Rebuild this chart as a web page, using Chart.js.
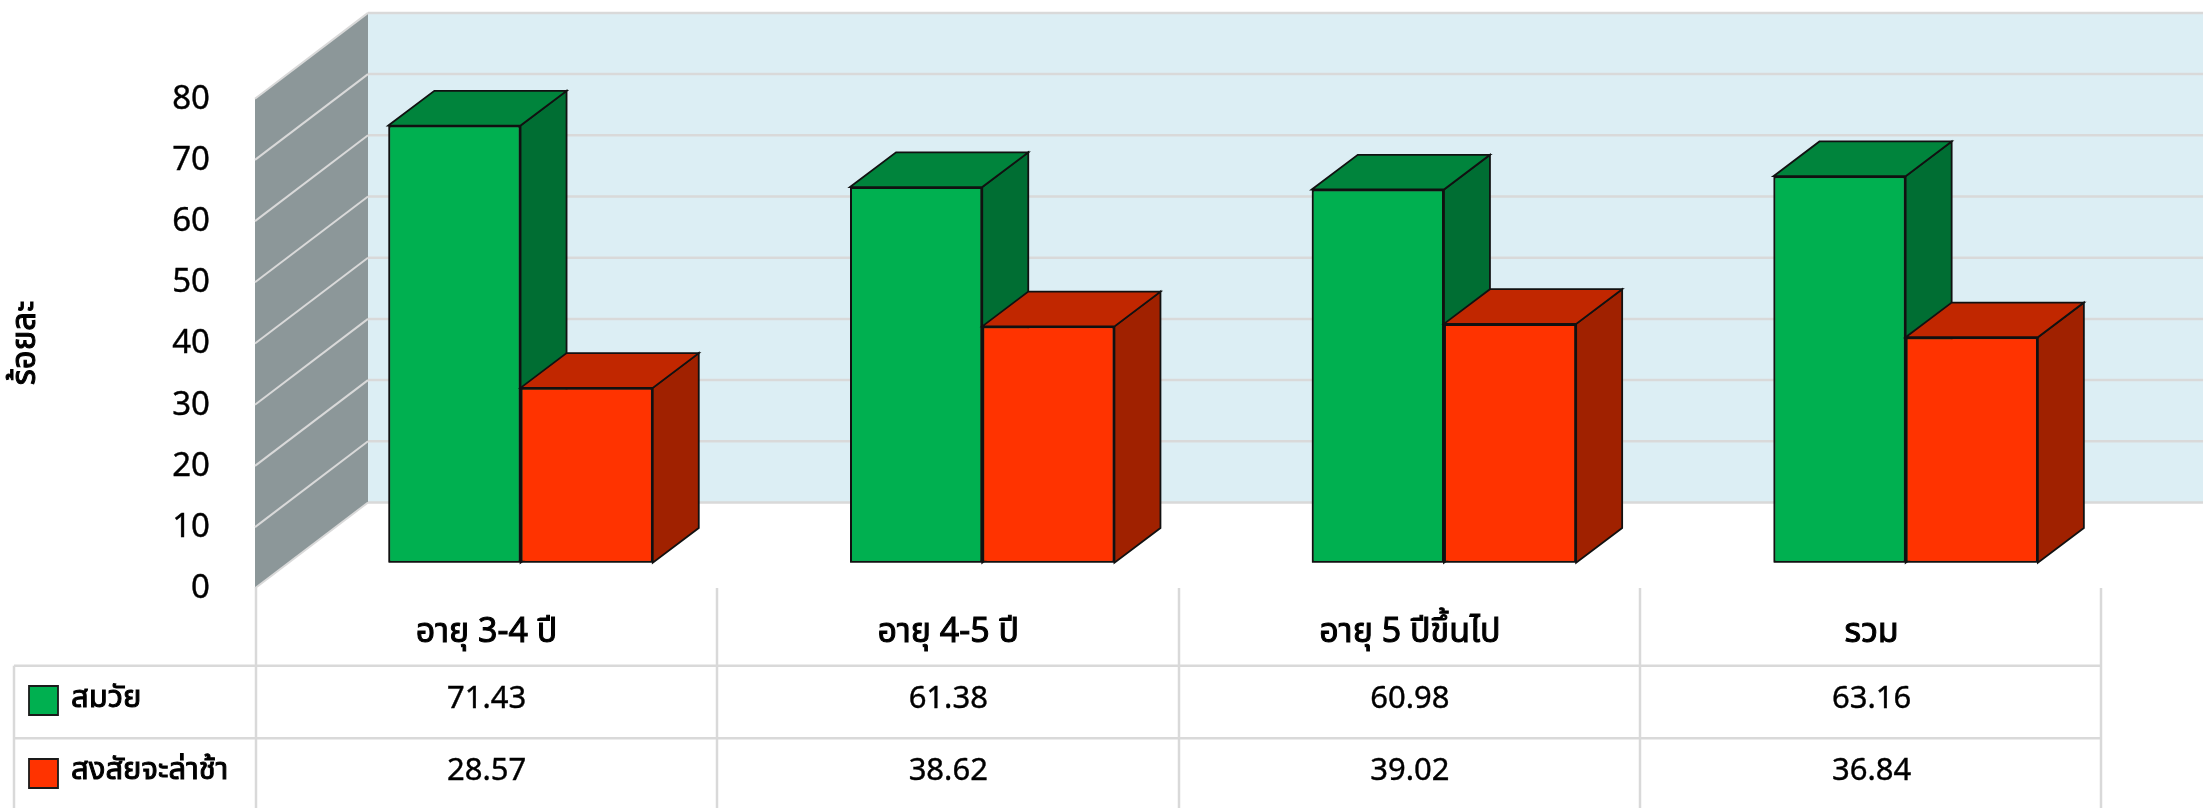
<!DOCTYPE html>
<html><head><meta charset="utf-8">
<style>html,body{margin:0;padding:0;background:#fff}#wrap{width:2203px;height:808px}canvas{display:block}</style>
<script src="https://cdn.jsdelivr.net/npm/chart.js@4"></script>
</head><body><div id="wrap"><canvas id="c" width="2203" height="808"></canvas></div>
<script>
const categories = ['อายุ 3-4 ปี', 'อายุ 4-5 ปี', 'อายุ 5 ปีขึ้นไป', 'รวม'];
const onTime = [71.43, 61.38, 60.98, 63.16];
const delayed = [28.57, 38.62, 39.02, 36.84];
const seriesNames = ['สมวัย', 'สงสัยจะล่าช้า'];
const yTickValues = [0, 10, 20, 30, 40, 50, 60, 70, 80];
const yTitle = 'ร้อยละ';

const FONT = '"Noto Sans","Noto Sans Thai","DejaVu Sans",sans-serif';
const GRID = '#D9D9D9';
const faces = [
  {front:'#00B050', top:'#00843C', side:'#006E33'},
  {front:'#FF3300', top:'#C12700', side:'#A02100'}
];
const depth = {dx:46, dy:34.7};

function poly(ctx, pts, fill, stroke, lw){
  ctx.beginPath();
  pts.forEach((p,i)=> i?ctx.lineTo(p[0],p[1]):ctx.moveTo(p[0],p[1]));
  ctx.closePath();
  if(fill){ctx.fillStyle=fill;ctx.fill();}
  if(stroke){ctx.strokeStyle=stroke;ctx.lineWidth=lw;ctx.lineJoin='miter';ctx.stroke();}
}
function line(ctx,x1,y1,x2,y2,c,w){
  ctx.beginPath();ctx.moveTo(x1,y1);ctx.lineTo(x2,y2);ctx.strokeStyle=c;ctx.lineWidth=w;ctx.stroke();
}
function heavyText(ctx,s,x,y,w){ctx.fillText(s,x,y);ctx.lineWidth=w;ctx.strokeStyle='#000';ctx.strokeText(s,x,y);}

const walls = {
  id:'walls',
  beforeDatasetsDraw(chart){
    const {ctx,scales:{y}} = chart;
    const wx=368, fx=255, W=chart.width, back=-60.2, front=25.6;
    const p=v=>y.getPixelForValue(v);
    ctx.save();
    poly(ctx,[[wx,p(80)+back],[W,p(80)+back],[W,p(0)+back],[wx,p(0)+back]],'#DCEEF4');
    poly(ctx,[[fx,p(80)+front],[wx,p(80)+back],[wx,p(0)+back],[fx,p(0)+front]],'#8C9799');
    yTickValues.forEach(v=>{
      line(ctx,wx,p(v)+back,W,p(v)+back,GRID,2.5);
      line(ctx,fx,p(v)+front,wx,p(v)+back,GRID,2);
    });
    ctx.restore();
  },
  afterDatasetsDraw(chart){
    const {ctx}=chart;
    ctx.save();
    // the left-hand series is painted first so the right-hand one overlaps its side face
    [0,1].forEach(i=>{
      const f=faces[i];
      chart.getDatasetMeta(i).data.forEach(b=>{
        const l=b.x-b.width/2,r=b.x+b.width/2,t=b.y,bt=b.base,dx=depth.dx,dy=depth.dy;
        poly(ctx,[[r,t],[r+dx,t-dy],[r+dx,bt-dy],[r,bt]],f.side,'#111',1.8);
        poly(ctx,[[l,t],[l+dx,t-dy],[r+dx,t-dy],[r,t]],f.top,'#111',1.8);
        b.draw(ctx);
      });
    });
    ctx.restore();
  },
  afterDraw(chart){
    const {ctx,scales:{x,y}} = chart;
    const cols=[256,717,1179,1640,2101], left=14, h1=665.7, h2=738.3, top=588, H=chart.height;
    ctx.save();
    cols.forEach(c=>line(ctx,c,top,c,H,GRID,2.5));
    line(ctx,left,h1,left,H,GRID,2.5);
    line(ctx,left,h1,2101,h1,GRID,2.5);
    line(ctx,left,h2,2101,h2,GRID,2.5);
    ctx.fillStyle='#000';ctx.textBaseline='middle';
    ctx.font='33px '+FONT;ctx.textAlign='right';
    y.ticks.forEach(t=>heavyText(ctx,t.label,210,y.getPixelForValue(t.value)+26,0.4));
    ctx.save();ctx.translate(26,343);ctx.rotate(-Math.PI/2);ctx.textAlign='center';
    ctx.font='33px '+FONT;heavyText(ctx,yTitle,0,0,1);ctx.restore();
    ctx.textAlign='center';
    categories.forEach((c,i)=>{
      const cx=x.getPixelForValue(i)-34;
      ctx.font='34px '+FONT;heavyText(ctx,c,cx,632,1);
      ctx.font='31px '+FONT;
      heavyText(ctx,onTime[i].toFixed(2),cx,699,0.4);
      heavyText(ctx,delayed[i].toFixed(2),cx,771,0.4);
    });
    ctx.textAlign='left';ctx.font='31px '+FONT;
    [[686,698],[759,770]].forEach((r,i)=>{
      poly(ctx,[[29,r[0]],[58,r[0]],[58,r[0]+29],[29,r[0]+29]],faces[i].front,'#1a1a1a',1.8);
      ctx.fillStyle='#000';
      heavyText(ctx,seriesNames[i],71,r[1],1);
    });
    ctx.restore();
  }
};

const barStyle = {borderColor:'#111',borderWidth:2,borderSkipped:false,categoryPercentage:0.5727,barPercentage:1};

new Chart(document.getElementById('c'),{
  type:'bar',
  data:{labels:categories,datasets:[
    {label:seriesNames[0],data:onTime,backgroundColor:faces[0].front,...barStyle},
    {label:seriesNames[1],data:delayed,backgroundColor:faces[1].front,...barStyle}
  ]},
  options:{
    responsive:false,animation:false,
    layout:{padding:{left:289.7,right:66.5,top:73.1,bottom:245.3}},
    plugins:{legend:{display:false},tooltip:{enabled:false},title:{display:false}},
    scales:{
      x:{display:false},
      y:{display:false,min:0,max:80,ticks:{stepSize:10}}
    }
  },
  plugins:[walls]
});
</script></body></html>
